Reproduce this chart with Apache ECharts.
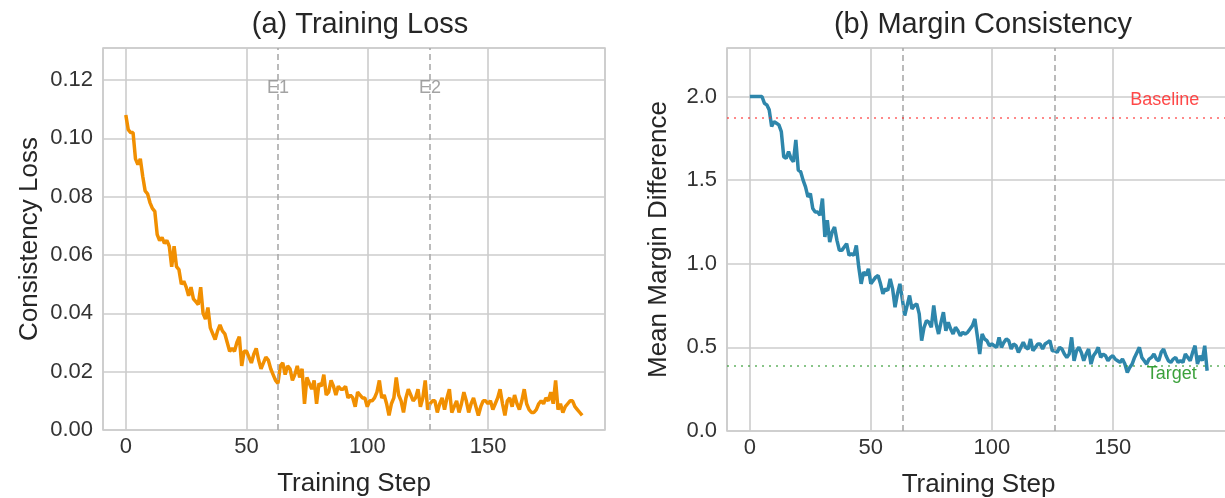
<!DOCTYPE html>
<html>
<head>
<meta charset="utf-8">
<script src="https://cdn.jsdelivr.net/npm/echarts@6/dist/echarts.min.js"></script>
<style>
    html, body { margin: 0; padding: 0; background: #fff; }
    #chart { width: 1225px; height: 498px; }
</style>
</head>
<body>
<div id="chart"></div>
<script>
// training loss per step (steps 0..189)
const lossValues = [
    0.108, 0.103, 0.102, 0.102, 0.093, 0.091, 0.093, 0.087, 0.082, 0.081,
    0.078, 0.076, 0.075, 0.067, 0.065, 0.066, 0.064, 0.065, 0.063, 0.056,
    0.063, 0.056, 0.055, 0.050, 0.051, 0.049, 0.046, 0.049, 0.045, 0.044,
    0.043, 0.049, 0.040, 0.038, 0.042, 0.035, 0.033, 0.031, 0.034, 0.036,
    0.034, 0.033, 0.030, 0.027, 0.028, 0.027, 0.030, 0.032, 0.022, 0.027,
    0.027, 0.025, 0.023, 0.026, 0.028, 0.024, 0.021, 0.023, 0.025, 0.024,
    0.021, 0.019, 0.017, 0.016, 0.022, 0.023, 0.019, 0.022, 0.021, 0.017,
    0.019, 0.022, 0.018, 0.021, 0.009, 0.018, 0.016, 0.014, 0.017, 0.009,
    0.016, 0.015, 0.019, 0.012, 0.013, 0.017, 0.015, 0.012, 0.015, 0.014,
    0.014, 0.015, 0.011, 0.012, 0.011, 0.008, 0.013, 0.012, 0.011, 0.011,
    0.008, 0.010, 0.010, 0.011, 0.013, 0.017, 0.011, 0.012, 0.009, 0.005,
    0.009, 0.011, 0.018, 0.012, 0.010, 0.006, 0.011, 0.014, 0.012, 0.010,
    0.011, 0.014, 0.008, 0.011, 0.017, 0.007, 0.009, 0.010, 0.010, 0.006,
    0.009, 0.011, 0.007, 0.011, 0.014, 0.006, 0.008, 0.010, 0.006, 0.009,
    0.013, 0.010, 0.006, 0.009, 0.011, 0.008, 0.005, 0.008, 0.010, 0.010,
    0.009, 0.010, 0.007, 0.009, 0.011, 0.014, 0.009, 0.005, 0.010, 0.011,
    0.008, 0.012, 0.009, 0.007, 0.010, 0.014, 0.009, 0.007, 0.006, 0.006,
    0.007, 0.009, 0.010, 0.009, 0.011, 0.010, 0.013, 0.009, 0.017, 0.007,
    0.009, 0.006, 0.008, 0.009, 0.010, 0.010, 0.008, 0.007, 0.006, 0.005
];

// mean margin difference per step (steps 0..189)
const marginValues = [
    2.00, 2.00, 2.00, 2.00, 2.00, 2.00, 1.96, 1.95, 1.92, 1.82,
    1.85, 1.84, 1.83, 1.79, 1.64, 1.63, 1.67, 1.63, 1.61, 1.74,
    1.56, 1.55, 1.50, 1.46, 1.40, 1.42, 1.33, 1.31, 1.31, 1.29,
    1.39, 1.16, 1.26, 1.13, 1.19, 1.22, 1.14, 1.08, 1.08, 1.10,
    1.12, 1.05, 1.06, 1.05, 1.11, 0.98, 0.88, 0.95, 0.93, 0.97,
    0.88, 0.90, 0.92, 0.93, 0.88, 0.82, 0.85, 0.84, 0.91, 0.85,
    0.74, 0.82, 0.88, 0.79, 0.69, 0.75, 0.81, 0.73, 0.75, 0.76,
    0.70, 0.54, 0.62, 0.66, 0.65, 0.62, 0.75, 0.64, 0.58, 0.65,
    0.71, 0.60, 0.65, 0.61, 0.58, 0.62, 0.60, 0.57, 0.59, 0.58,
    0.59, 0.61, 0.63, 0.67, 0.57, 0.46, 0.58, 0.55, 0.54, 0.51,
    0.52, 0.51, 0.50, 0.56, 0.50, 0.53, 0.55, 0.54, 0.49, 0.52,
    0.51, 0.47, 0.50, 0.53, 0.50, 0.49, 0.55, 0.48, 0.50, 0.52,
    0.52, 0.49, 0.52, 0.53, 0.54, 0.48, 0.48, 0.47, 0.50, 0.49,
    0.46, 0.44, 0.46, 0.56, 0.42, 0.48, 0.50, 0.47, 0.42, 0.46,
    0.49, 0.40, 0.45, 0.47, 0.50, 0.44, 0.46, 0.45, 0.42, 0.44,
    0.45, 0.43, 0.42, 0.41, 0.43, 0.40, 0.35, 0.38, 0.40, 0.44,
    0.47, 0.50, 0.44, 0.42, 0.40, 0.43, 0.44, 0.46, 0.43, 0.42,
    0.47, 0.49, 0.45, 0.42, 0.41, 0.43, 0.44, 0.41, 0.42, 0.41,
    0.46, 0.44, 0.42, 0.47, 0.51, 0.40, 0.45, 0.42, 0.51, 0.36
];

const epochSteps = [63, 126];
const epochLabels = ['E1', 'E2'];
const baselineValue = 1.87;
const targetValue = 0.39;

const font = 'Liberation Sans, Arial, sans-serif';
const gridColor = '#cccccc';

const lossData = lossValues.map((v, i) => [i, v]);
const marginData = marginValues.map((v, i) => [i, v]);

function xAxisFor(gridIndex) {
    return {
        type: 'value',
        gridIndex: gridIndex,
        min: -9.45,
        max: 198.45,
        minInterval: 50,
        maxInterval: 50,
        name: 'Training Step',
        nameLocation: 'middle',
        nameGap: 41,
        nameTextStyle: { fontFamily: font, fontSize: 26, color: '#262626' },
        axisLine: { show: false },
        axisTick: { show: false },
        axisLabel: {
            fontFamily: font, fontSize: 22, color: '#333', margin: 6,
            showMinLabel: false, showMaxLabel: false
        },
        splitLine: { show: true, lineStyle: { color: gridColor, width: 1.6 } }
    };
}

const vlines = {
    symbol: 'none',
    silent: true,
    label: { show: false },
    lineStyle: { color: '#aaaaaa', type: [6, 4], width: 1.6 },
    data: epochSteps.map(s => ({ xAxis: s }))
};

const option = {
    backgroundColor: '#fff',
    animation: false,
    title: [{
        text: '(a) Training Loss',
        left: 355, top: 5, textAlign: 'center',
        textStyle: { fontFamily: font, fontSize: 29, fontWeight: 'normal', color: '#262626' }
    }, {
        text: '(b) Margin Consistency',
        left: 978, top: 5, textAlign: 'center',
        textStyle: { fontFamily: font, fontSize: 29, fontWeight: 'normal', color: '#262626' }
    }],
    grid: [
        { left: 103, top: 48, width: 502, height: 382, show: true, borderColor: gridColor, borderWidth: 1.6, outerBoundsMode: 'none', containLabel: false },
        { left: 727, top: 48, width: 503, height: 383, show: true, borderColor: gridColor, borderWidth: 1.6, outerBoundsMode: 'none', containLabel: false }
    ],
    xAxis: [xAxisFor(0), xAxisFor(1)],
    yAxis: [{
        type: 'value',
        gridIndex: 0,
        min: 0,
        max: 0.131,
        interval: 0.02,
        name: 'Consistency Loss',
        nameLocation: 'middle',
        nameGap: 60,
        nameTextStyle: { fontFamily: font, fontSize: 26, color: '#262626' },
        axisLine: { show: false },
        axisTick: { show: false },
        axisLabel: {
            fontFamily: font, fontSize: 22, color: '#333', margin: 10,
            showMaxLabel: false,
            formatter: v => v.toFixed(2)
        },
        splitLine: { show: true, lineStyle: { color: gridColor, width: 1.6 } }
    }, {
        type: 'value',
        gridIndex: 1,
        min: 0,
        max: 2.29,
        interval: 0.5,
        name: 'Mean Margin Difference',
        nameLocation: 'middle',
        nameGap: 55,
        nameTextStyle: { fontFamily: font, fontSize: 26, color: '#262626' },
        axisLine: { show: false },
        axisTick: { show: false },
        axisLabel: {
            fontFamily: font, fontSize: 22, color: '#333', margin: 10,
            showMaxLabel: false,
            formatter: v => v.toFixed(1)
        },
        splitLine: { show: true, lineStyle: { color: gridColor, width: 1.6 } }
    }],
    series: [{
        type: 'line',
        xAxisIndex: 0,
        yAxisIndex: 0,
        data: lossData,
        showSymbol: false,
        lineStyle: { color: '#F18F01', width: 3.5 },
        markLine: vlines,
        z: 3
    }, {
        type: 'scatter',
        xAxisIndex: 0,
        yAxisIndex: 0,
        symbolSize: 0,
        silent: true,
        data: epochSteps.map((s, i) => ({ value: [s, 0.1173], name: epochLabels[i] })),
        label: {
            show: true, position: 'inside', formatter: '{b}',
            fontFamily: font, fontSize: 18, color: '#8c8c8c'
        }
    }, {
        type: 'line',
        xAxisIndex: 1,
        yAxisIndex: 1,
        data: marginData,
        showSymbol: false,
        lineStyle: { color: '#2E86AB', width: 3.5 },
        markLine: {
            symbol: 'none',
            silent: true,
            label: { show: false },
            data: epochSteps.map(s => ({ xAxis: s, lineStyle: { color: '#aaaaaa', type: [6, 4], width: 1.6 } }))
                .concat([
                    { yAxis: baselineValue, lineStyle: { color: 'rgba(255,40,40,0.55)', type: [2, 5], width: 2.2 } },
                    { yAxis: targetValue, lineStyle: { color: 'rgba(40,150,40,0.55)', type: [2, 5], width: 2.2 } }
                ])
        },
        z: 3
    }, {
        type: 'scatter',
        xAxisIndex: 1,
        yAxisIndex: 1,
        symbolSize: 0,
        silent: true,
        data: [
            { value: [171.5, 1.98], name: 'Baseline', label: { color: '#ff1a1a' } },
            { value: [174.4, 0.34], name: 'Target', label: { color: '#0a8a0a' } }
        ],
        label: {
            show: true, position: 'inside', formatter: '{b}',
            fontFamily: font, fontSize: 18
        },
        z: 4
    }]
};

const chart = echarts.init(document.getElementById('chart'));
chart.setOption(option);
window.addEventListener('resize', function () {
    chart.resize();
});
</script>
</body>
</html>
